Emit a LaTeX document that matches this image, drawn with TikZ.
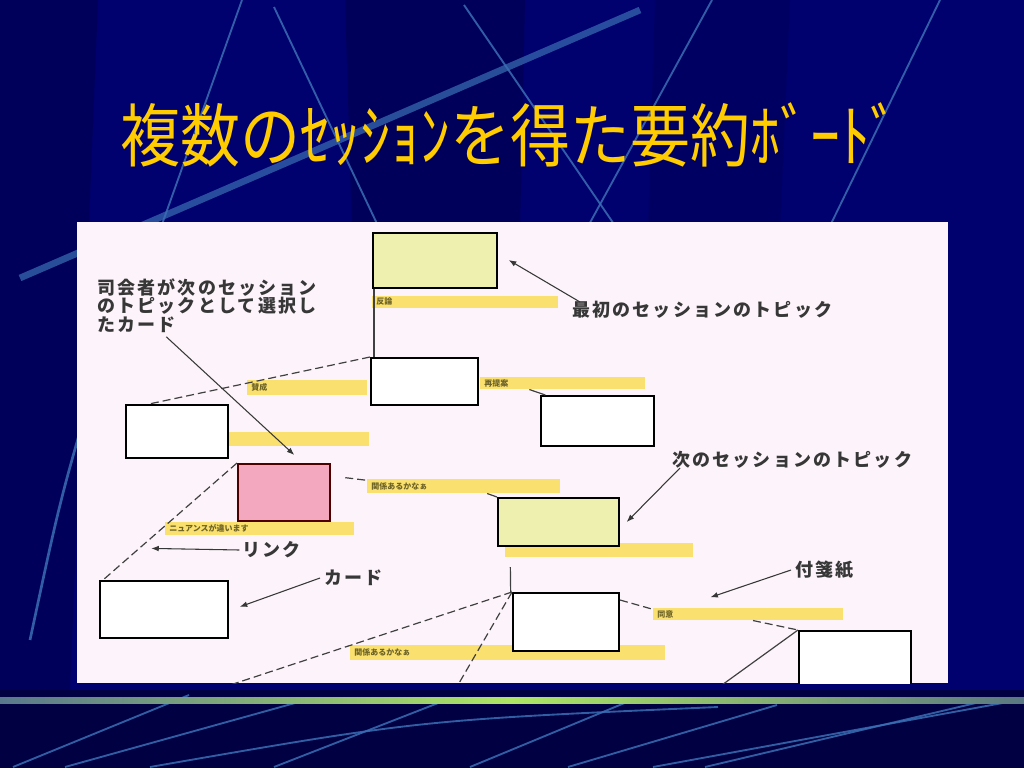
\documentclass[tikz,border=0pt]{standalone}
\usepackage{fontspec}
\usepackage{graphicx}
\newfontfamily\jpfont{Noto Sans CJK JP}
\newfontfamily\notefont{Noto Sans CJK JP}[LetterSpace=12]
\usetikzlibrary{arrows.meta,positioning,calc}

\definecolor{slidebg}{RGB}{0,0,110}
\definecolor{slidedark}{RGB}{0,0,90}
\definecolor{slidefoot}{RGB}{0,0,66}
\definecolor{streak}{RGB}{58,110,180}
\definecolor{titlegold}{RGB}{255,204,0}
\definecolor{paper}{RGB}{252,244,250}
\definecolor{stickyyellow}{RGB}{250,224,110}
\definecolor{stickyink}{RGB}{110,100,40}
\definecolor{topicfill}{RGB}{238,240,176}
\definecolor{chosenfill}{RGB}{244,168,192}
\definecolor{inkgray}{RGB}{55,55,55}

\begin{document}
\begin{tikzpicture}[
    x=0.75pt, y=-0.75pt,
    card/.style={rectangle, draw=black, line width=1.5pt, fill=white, anchor=north west, inner sep=0pt},
    sticky/.style={rectangle, fill=stickyyellow, anchor=north west, inner xsep=3pt, inner ysep=0pt, align=left, font=\jpfont\bfseries\fontsize{6}{6}\selectfont, text=stickyink},
    note/.style={font=\notefont\bfseries\fontsize{13.5}{14}\selectfont, text=inkgray, align=left, inner sep=0pt},
    line/.style={draw=inkgray, -{Latex[length=2mm]}, thick},
    link/.style={draw=black!75, line width=0.9pt},
    dlink/.style={draw=black!75, line width=0.9pt, dash pattern=on 6pt off 3pt},
    streakline/.style={draw=streak, line width=1.4pt, opacity=0.85}
]
    \useasboundingbox (0,0) rectangle (1024,768);

    % slide background
    \fill[slidebg] (0,0) rectangle (1024,768);
    \fill[slidedark] (0,0) -- (98,0) -- (70,690) -- (0,690) -- cycle;
    \fill[slidedark] (345,0) -- (525,0) -- (520,230) -- (352,230) -- cycle;
    \fill[slidedark, opacity=0.5] (655,0) -- (790,0) -- (780,230) -- (648,230) -- cycle;
    \draw[streakline, line width=5pt, opacity=0.7] (640,10) -- (20,278);
    \draw[streakline] (242,0) -- (160,230);
    \draw[streakline] (274,7) -- (380,230);
    \draw[streakline] (464,5) -- (618,230);
    \draw[streakline] (712,0) -- (586,230);
    \draw[streakline] (940,0) -- (828,230);
    \draw[streakline, line width=2pt] (95,380) .. controls (60,500) .. (30,640);

    % footer
    \fill[slidefoot] (0,690) rectangle (1024,768);
    \draw[streakline] (189,695) -- (13,767);
    \draw[streakline] (313,698) -- (65,767);
    \draw[streakline] (451,698) -- (274,767);
    \draw[streakline] (150,767) .. controls (420,720) .. (718,707);
    \draw[streakline] (627,702) -- (470,767);
    \draw[streakline] (777,705) -- (568,767);
    \draw[streakline] (980,702) -- (705,767);
    \draw[streakline] (653,767) -- (1019,700);
    \shade[left color={rgb,255:red,90;green,120;blue,140}, right color={rgb,255:red,90;green,120;blue,130}, middle color={rgb,255:red,175;green,230;blue,100}] (0,697) rectangle (1024,703);

    % title
    \node[font=\jpfont\fontsize{45}{45}\selectfont, text=titlegold] (title) at (510,135) {\scalebox{1}[1.15]{複数のｾｯｼｮﾝを得た要約ﾎﾞｰﾄﾞ}};

    % board
    \node[rectangle, fill=paper, anchor=north west, minimum width=653.25pt, minimum height=345.75pt, inner sep=0pt] (board) at (77,222) {};

    \begin{scope}
    \clip (board.north west) rectangle (board.south east);

    % sticky notes
    \node[sticky, text width=133.5pt, minimum height=8.5pt] (s1) at (372,296) {反論};
    \node[sticky, text width=84pt, minimum height=11pt] (s2) at (247,380) {賛成};
    \node[sticky, text width=117.75pt, minimum height=9pt] (s3) at (480,377) {再提案};
    \node[sticky, text width=105.75pt, minimum height=10.5pt] (s4) at (220,432) {};
    \node[sticky, text width=135.75pt, minimum height=9.75pt] (s5) at (165,522) {ニュアンスが違います};
    \node[sticky, text width=138.75pt, minimum height=10.5pt] (s6) at (367,479) {関係あるかなぁ};
    \node[sticky, text width=135pt, minimum height=10.5pt] (s7) at (505,543) {};
    \node[sticky, text width=230.25pt, minimum height=11pt] (s8) at (350,645) {関係あるかなぁ};
    \node[sticky, text width=136.5pt, minimum height=9pt] (s9) at (653,608) {同意};

    % cards
    \node[card, fill=topicfill, minimum width=93pt, minimum height=41pt] (topic1) at (372,232) {};
    \node[card, minimum width=80.25pt, minimum height=35.25pt] (cardmid) at (370,357) {};
    \node[card, minimum width=84.75pt, minimum height=37.5pt] (cardright) at (540,395) {};
    \node[card, minimum width=76.5pt, minimum height=39.75pt] (cardleft) at (125,404) {};
    \node[card, fill=chosenfill, draw=black!70!red, line width=1.2pt, minimum width=69pt, minimum height=42.75pt] (chosen) at (237,463) {};
    \node[card, minimum width=96pt, minimum height=42.75pt] (cardlow) at (99,580) {};
    \node[card, fill=topicfill, minimum width=90.75pt, minimum height=36pt] (topic2) at (497,497) {};
    \node[card, minimum width=79.5pt, minimum height=43.5pt] (cardbot) at (512,592) {};
    \node[card, minimum width=84pt, minimum height=45pt] (cardbr) at (798,630) {};

    \coordinate (exitA) at (215,690);
    \coordinate (exitB) at (455,690);
    \coordinate (exitC) at (715,690);

    % links between cards
    \draw[link] ([xshift=1.5pt]topic1.south west) -- ([xshift=3pt]cardmid.north west);
    \draw[dlink] (cardmid.north west) -- ([xshift=18pt]cardleft.north west);
    \draw[link] ([xshift=37pt]s3.south west) -- ([xshift=4pt]cardright.north west);
    \draw[dlink] (chosen.north west) -- coordinate[pos=0.73] (linkmid) ([xshift=3pt]cardlow.north west);
    \draw[dlink] ([xshift=11pt,yshift=-11pt]chosen.north east) -- ([yshift=-1pt]s6.north west);
    \draw[link] ([xshift=-55pt]s6.south east) -- (topic2.north west);
    \draw[link] ([xshift=10pt,yshift=-15pt]topic2.south west) -- ([xshift=-1pt]cardbot.north west);
    \draw[dlink] (cardbot.north west) -- (exitA);
    \draw[dlink] (cardbot.north west) -- (exitB);
    \draw[dlink] ([yshift=-6pt]cardbot.north east) -- ([yshift=-1pt]s9.north west);
    \draw[dlink] ([xshift=75pt]s9.south west) -- (cardbr.north west);
    \draw[link] (cardbr.north west) -- (exitC);

    % annotations
    \node[note, anchor=north west] (chooser) at (97,278) {司会者が次のセッション\\のトピックとして選択し\\たカード};
    \node[note, anchor=west] (first) at (572,310) {最初のセッションのトピック};
    \node[note, anchor=west] (next) at (672,460) {次のセッションのトピック};
    \node[note, anchor=west] (linknote) at (242,550) {リンク};
    \node[note, anchor=west] (cardnote) at (324,578) {カード};
    \node[note, anchor=west] (stickynote) at (795,570) {付箋紙};

    \path[line] ([xshift=52pt,yshift=-3pt]chooser.south west) -- ([xshift=43pt,yshift=6pt]chosen.north west);
    \path[line] ([xshift=6pt,yshift=6pt]first.west) -- ([xshift=8pt,yshift=-21pt]topic1.north east);
    \path[line] ([xshift=6pt,yshift=-6pt]next.west) -- ([xshift=5pt]topic2.east);
    \path[line] ([xshift=-2pt]linknote.west) -- ([xshift=9pt]linkmid);
    \path[line] ([xshift=-3pt]cardnote.west) -- ([xshift=8pt,yshift=2pt]cardlow.east);
    \path[line] ([xshift=-3pt]stickynote.west) -- ([xshift=43pt,yshift=8pt]s9.north west);
    \end{scope}
\end{tikzpicture}
\end{document}
